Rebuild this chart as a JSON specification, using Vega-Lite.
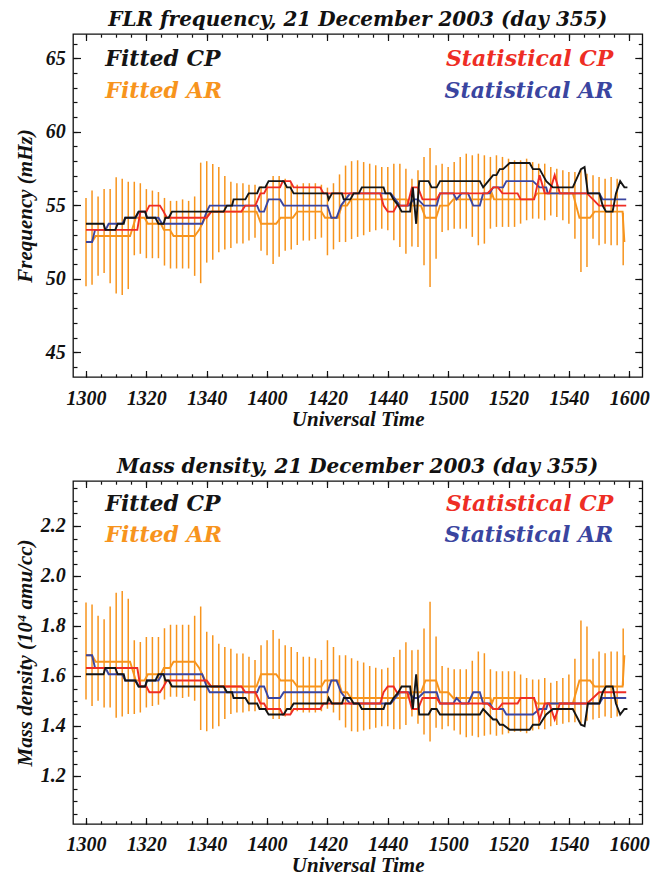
{
  "$schema": "https://vega.github.io/schema/vega-lite/v6.json",
  "padding": {"left": 14, "top": 9, "right": 4, "bottom": 2},
  "background": "white",
  "spacing": 104,
  "bounds": "flush",
  "config": {
    "view": {"stroke": "#111", "strokeWidth": 1.3},
    "axis": {"labelFont": "Liberation Serif", "labelFontSize": 20, "labelFontStyle": "italic", "labelFontWeight": "bold", "labelColor": "#111", "titleFont": "Liberation Serif", "titleFontSize": 21, "titleFontStyle": "italic", "titleFontWeight": "bold", "titleColor": "#111", "domain": false, "grid": false, "tickColor": "#111", "tickWidth": 1.2, "labelFlush": false, "labelOverlap": false},
    "title": {"font": "DejaVu Serif", "fontSize": 20, "fontStyle": "italic", "fontWeight": "bold", "color": "#111", "anchor": "middle", "baseline": "alphabetic", "offset": 3}
  },
  "datasets": {
    "lines": [
      {"s":"Fitted AR","t":0,"f":52.5,"d":1.683},{"s":"Fitted AR","t":2,"f":52.5,"d":1.683},{"s":"Fitted AR","t":3.2,"f":52.91,"d":1.657},{"s":"Fitted AR","t":14.6,"f":52.91,"d":1.657},{"s":"Fitted AR","t":16.5,"f":54.15,"d":1.582},{"s":"Fitted AR","t":19.4,"f":54.15,"d":1.582},{"s":"Fitted AR","t":20.5,"f":53.74,"d":1.607},{"s":"Fitted AR","t":24.8,"f":53.74,"d":1.607},{"s":"Fitted AR","t":25.8,"f":53.33,"d":1.632},{"s":"Fitted AR","t":27.8,"f":53.33,"d":1.632},{"s":"Fitted AR","t":29,"f":52.91,"d":1.657},{"s":"Fitted AR","t":36,"f":52.91,"d":1.657},{"s":"Fitted AR","t":37.5,"f":53.33,"d":1.632},{"s":"Fitted AR","t":39.5,"f":54.15,"d":1.582},{"s":"Fitted AR","t":41.5,"f":54.57,"d":1.558},{"s":"Fitted AR","t":56.5,"f":54.57,"d":1.558},{"s":"Fitted AR","t":58,"f":53.74,"d":1.607},{"s":"Fitted AR","t":63,"f":53.74,"d":1.607},{"s":"Fitted AR","t":64.5,"f":54.15,"d":1.582},{"s":"Fitted AR","t":68.5,"f":54.15,"d":1.582},{"s":"Fitted AR","t":70,"f":54.57,"d":1.558},{"s":"Fitted AR","t":78,"f":54.57,"d":1.558},{"s":"Fitted AR","t":79.2,"f":54.15,"d":1.582},{"s":"Fitted AR","t":83.5,"f":54.15,"d":1.582},{"s":"Fitted AR","t":84.8,"f":54.98,"d":1.535},{"s":"Fitted AR","t":86.5,"f":54.98,"d":1.535},{"s":"Fitted AR","t":87.8,"f":55.4,"d":1.512},{"s":"Fitted AR","t":106.3,"f":55.4,"d":1.512},{"s":"Fitted AR","t":107.5,"f":54.98,"d":1.535},{"s":"Fitted AR","t":111,"f":54.98,"d":1.535},{"s":"Fitted AR","t":112.5,"f":54.15,"d":1.582},{"s":"Fitted AR","t":116,"f":54.15,"d":1.582},{"s":"Fitted AR","t":117.3,"f":54.98,"d":1.535},{"s":"Fitted AR","t":120,"f":54.98,"d":1.535},{"s":"Fitted AR","t":121.7,"f":55.4,"d":1.512},{"s":"Fitted AR","t":134,"f":55.4,"d":1.512},{"s":"Fitted AR","t":134.5,"f":55.81,"d":1.49},{"s":"Fitted AR","t":135.2,"f":55.4,"d":1.512},{"s":"Fitted AR","t":148,"f":55.4,"d":1.512},{"s":"Fitted AR","t":149.5,"f":55.81,"d":1.49},{"s":"Fitted AR","t":161.3,"f":55.81,"d":1.49},{"s":"Fitted AR","t":163.5,"f":54.15,"d":1.582},{"s":"Fitted AR","t":167,"f":54.15,"d":1.582},{"s":"Fitted AR","t":168.5,"f":54.57,"d":1.558},{"s":"Fitted AR","t":177.8,"f":54.57,"d":1.558},{"s":"Fitted AR","t":178.4,"f":52.5,"d":1.683},
      {"s":"Statistical AR","t":0,"f":52.5,"d":1.683},{"s":"Statistical AR","t":2,"f":52.5,"d":1.683},{"s":"Statistical AR","t":3,"f":53.33,"d":1.632},{"s":"Statistical AR","t":6.5,"f":53.33,"d":1.632},{"s":"Statistical AR","t":7.5,"f":53.74,"d":1.607},{"s":"Statistical AR","t":12,"f":53.74,"d":1.607},{"s":"Statistical AR","t":13,"f":54.15,"d":1.582},{"s":"Statistical AR","t":16.5,"f":54.15,"d":1.582},{"s":"Statistical AR","t":17.5,"f":54.57,"d":1.558},{"s":"Statistical AR","t":19.6,"f":54.57,"d":1.558},{"s":"Statistical AR","t":20.2,"f":54.15,"d":1.582},{"s":"Statistical AR","t":24,"f":54.15,"d":1.582},{"s":"Statistical AR","t":25.2,"f":53.74,"d":1.607},{"s":"Statistical AR","t":38.5,"f":53.74,"d":1.607},{"s":"Statistical AR","t":40,"f":54.57,"d":1.558},{"s":"Statistical AR","t":41,"f":54.98,"d":1.535},{"s":"Statistical AR","t":56.7,"f":54.98,"d":1.535},{"s":"Statistical AR","t":57.5,"f":54.57,"d":1.558},{"s":"Statistical AR","t":59,"f":54.57,"d":1.558},{"s":"Statistical AR","t":60.5,"f":55.4,"d":1.512},{"s":"Statistical AR","t":64.3,"f":55.4,"d":1.512},{"s":"Statistical AR","t":65.5,"f":54.98,"d":1.535},{"s":"Statistical AR","t":80,"f":54.98,"d":1.535},{"s":"Statistical AR","t":81.3,"f":54.15,"d":1.582},{"s":"Statistical AR","t":83,"f":54.15,"d":1.582},{"s":"Statistical AR","t":84.5,"f":54.98,"d":1.535},{"s":"Statistical AR","t":86,"f":55.4,"d":1.512},{"s":"Statistical AR","t":87.5,"f":55.81,"d":1.49},{"s":"Statistical AR","t":101,"f":55.81,"d":1.49},{"s":"Statistical AR","t":102.5,"f":55.4,"d":1.512},{"s":"Statistical AR","t":104,"f":54.98,"d":1.535},{"s":"Statistical AR","t":107,"f":54.98,"d":1.535},{"s":"Statistical AR","t":108.5,"f":55.4,"d":1.512},{"s":"Statistical AR","t":110,"f":55.4,"d":1.512},{"s":"Statistical AR","t":112,"f":54.98,"d":1.535},{"s":"Statistical AR","t":116.2,"f":54.98,"d":1.535},{"s":"Statistical AR","t":117.3,"f":55.81,"d":1.49},{"s":"Statistical AR","t":121.7,"f":55.81,"d":1.49},{"s":"Statistical AR","t":122.8,"f":55.4,"d":1.512},{"s":"Statistical AR","t":124.4,"f":55.81,"d":1.49},{"s":"Statistical AR","t":126.6,"f":55.81,"d":1.49},{"s":"Statistical AR","t":128.3,"f":54.98,"d":1.535},{"s":"Statistical AR","t":130.5,"f":54.98,"d":1.535},{"s":"Statistical AR","t":131.6,"f":55.81,"d":1.49},{"s":"Statistical AR","t":133.8,"f":55.81,"d":1.49},{"s":"Statistical AR","t":134.9,"f":56.22,"d":1.468},{"s":"Statistical AR","t":138.2,"f":56.22,"d":1.468},{"s":"Statistical AR","t":139.3,"f":56.64,"d":1.446},{"s":"Statistical AR","t":148.1,"f":56.64,"d":1.446},{"s":"Statistical AR","t":150.3,"f":56.22,"d":1.468},{"s":"Statistical AR","t":152.5,"f":56.22,"d":1.468},{"s":"Statistical AR","t":153,"f":55.81,"d":1.49},{"s":"Statistical AR","t":170.1,"f":55.81,"d":1.49},{"s":"Statistical AR","t":171.2,"f":55.4,"d":1.512},{"s":"Statistical AR","t":179,"f":55.4,"d":1.512},
      {"s":"Statistical CP","t":0,"f":53.33,"d":1.632},{"s":"Statistical CP","t":17,"f":53.33,"d":1.632},{"s":"Statistical CP","t":18,"f":54.57,"d":1.558},{"s":"Statistical CP","t":20,"f":54.57,"d":1.558},{"s":"Statistical CP","t":21,"f":54.98,"d":1.535},{"s":"Statistical CP","t":24.5,"f":54.98,"d":1.535},{"s":"Statistical CP","t":25.7,"f":54.57,"d":1.558},{"s":"Statistical CP","t":26.8,"f":54.15,"d":1.582},{"s":"Statistical CP","t":40,"f":54.15,"d":1.582},{"s":"Statistical CP","t":41.5,"f":54.57,"d":1.558},{"s":"Statistical CP","t":51.5,"f":54.57,"d":1.558},{"s":"Statistical CP","t":52.8,"f":54.98,"d":1.535},{"s":"Statistical CP","t":56.1,"f":54.98,"d":1.535},{"s":"Statistical CP","t":57.8,"f":55.81,"d":1.49},{"s":"Statistical CP","t":59,"f":55.81,"d":1.49},{"s":"Statistical CP","t":60,"f":56.22,"d":1.468},{"s":"Statistical CP","t":64.3,"f":56.22,"d":1.468},{"s":"Statistical CP","t":65.2,"f":56.64,"d":1.446},{"s":"Statistical CP","t":67.7,"f":56.64,"d":1.446},{"s":"Statistical CP","t":68.8,"f":56.22,"d":1.468},{"s":"Statistical CP","t":77.6,"f":56.22,"d":1.468},{"s":"Statistical CP","t":78.7,"f":55.81,"d":1.49},{"s":"Statistical CP","t":97.5,"f":55.81,"d":1.49},{"s":"Statistical CP","t":98.6,"f":54.98,"d":1.535},{"s":"Statistical CP","t":100,"f":54.57,"d":1.558},{"s":"Statistical CP","t":101.9,"f":54.57,"d":1.558},{"s":"Statistical CP","t":103,"f":54.98,"d":1.535},{"s":"Statistical CP","t":106.5,"f":54.98,"d":1.535},{"s":"Statistical CP","t":108,"f":56.22,"d":1.468},{"s":"Statistical CP","t":110,"f":56.22,"d":1.468},{"s":"Statistical CP","t":111.5,"f":55.4,"d":1.512},{"s":"Statistical CP","t":116.2,"f":55.4,"d":1.512},{"s":"Statistical CP","t":117.3,"f":55.81,"d":1.49},{"s":"Statistical CP","t":133,"f":55.81,"d":1.49},{"s":"Statistical CP","t":135,"f":56.22,"d":1.468},{"s":"Statistical CP","t":136.5,"f":56.22,"d":1.468},{"s":"Statistical CP","t":138,"f":55.81,"d":1.49},{"s":"Statistical CP","t":143,"f":55.81,"d":1.49},{"s":"Statistical CP","t":144,"f":55.4,"d":1.512},{"s":"Statistical CP","t":148.5,"f":55.4,"d":1.512},{"s":"Statistical CP","t":150.3,"f":57.05,"d":1.426},{"s":"Statistical CP","t":152,"f":55.81,"d":1.49},{"s":"Statistical CP","t":153.5,"f":55.81,"d":1.49},{"s":"Statistical CP","t":155.3,"f":57.05,"d":1.426},{"s":"Statistical CP","t":157,"f":55.81,"d":1.49},{"s":"Statistical CP","t":166,"f":55.81,"d":1.49},{"s":"Statistical CP","t":168,"f":55.4,"d":1.512},{"s":"Statistical CP","t":170,"f":54.98,"d":1.535},{"s":"Statistical CP","t":179,"f":54.98,"d":1.535},
      {"s":"Fitted CP","t":0,"f":53.74,"d":1.607},{"s":"Fitted CP","t":5.8,"f":53.74,"d":1.607},{"s":"Fitted CP","t":6.4,"f":53.33,"d":1.632},{"s":"Fitted CP","t":9.7,"f":53.33,"d":1.632},{"s":"Fitted CP","t":10.5,"f":53.74,"d":1.607},{"s":"Fitted CP","t":12.5,"f":53.74,"d":1.607},{"s":"Fitted CP","t":13,"f":54.15,"d":1.582},{"s":"Fitted CP","t":16.3,"f":54.15,"d":1.582},{"s":"Fitted CP","t":17.4,"f":54.57,"d":1.558},{"s":"Fitted CP","t":19.6,"f":54.57,"d":1.558},{"s":"Fitted CP","t":20.2,"f":54.15,"d":1.582},{"s":"Fitted CP","t":23,"f":54.15,"d":1.582},{"s":"Fitted CP","t":24,"f":53.74,"d":1.607},{"s":"Fitted CP","t":25.7,"f":53.74,"d":1.607},{"s":"Fitted CP","t":26.3,"f":54.15,"d":1.582},{"s":"Fitted CP","t":27.4,"f":54.15,"d":1.582},{"s":"Fitted CP","t":28.5,"f":54.57,"d":1.558},{"s":"Fitted CP","t":45.6,"f":54.57,"d":1.558},{"s":"Fitted CP","t":46.7,"f":54.98,"d":1.535},{"s":"Fitted CP","t":48.4,"f":54.98,"d":1.535},{"s":"Fitted CP","t":48.9,"f":55.4,"d":1.512},{"s":"Fitted CP","t":52.8,"f":55.4,"d":1.512},{"s":"Fitted CP","t":53.9,"f":55.81,"d":1.49},{"s":"Fitted CP","t":56.7,"f":55.81,"d":1.49},{"s":"Fitted CP","t":57.5,"f":56.22,"d":1.468},{"s":"Fitted CP","t":59.4,"f":56.22,"d":1.468},{"s":"Fitted CP","t":60.5,"f":56.64,"d":1.446},{"s":"Fitted CP","t":65.5,"f":56.64,"d":1.446},{"s":"Fitted CP","t":66.6,"f":56.22,"d":1.468},{"s":"Fitted CP","t":67.7,"f":56.22,"d":1.468},{"s":"Fitted CP","t":68.8,"f":55.81,"d":1.49},{"s":"Fitted CP","t":79.9,"f":55.81,"d":1.49},{"s":"Fitted CP","t":80.4,"f":55.4,"d":1.512},{"s":"Fitted CP","t":81.5,"f":55.81,"d":1.49},{"s":"Fitted CP","t":84.8,"f":55.81,"d":1.49},{"s":"Fitted CP","t":85.4,"f":55.4,"d":1.512},{"s":"Fitted CP","t":87.6,"f":55.4,"d":1.512},{"s":"Fitted CP","t":88.7,"f":55.81,"d":1.49},{"s":"Fitted CP","t":90.4,"f":55.81,"d":1.49},{"s":"Fitted CP","t":91.4,"f":56.22,"d":1.468},{"s":"Fitted CP","t":98.6,"f":56.22,"d":1.468},{"s":"Fitted CP","t":99.2,"f":55.81,"d":1.49},{"s":"Fitted CP","t":100.8,"f":55.81,"d":1.49},{"s":"Fitted CP","t":101.9,"f":55.4,"d":1.512},{"s":"Fitted CP","t":103.5,"f":54.98,"d":1.535},{"s":"Fitted CP","t":104.6,"f":54.57,"d":1.558},{"s":"Fitted CP","t":107.4,"f":54.57,"d":1.558},{"s":"Fitted CP","t":108.3,"f":56.22,"d":1.468},{"s":"Fitted CP","t":109.4,"f":53.74,"d":1.607},{"s":"Fitted CP","t":110.4,"f":56.64,"d":1.446},{"s":"Fitted CP","t":113.5,"f":56.64,"d":1.446},{"s":"Fitted CP","t":114.5,"f":56.22,"d":1.468},{"s":"Fitted CP","t":116.2,"f":56.22,"d":1.468},{"s":"Fitted CP","t":117.3,"f":56.64,"d":1.446},{"s":"Fitted CP","t":130.5,"f":56.64,"d":1.446},{"s":"Fitted CP","t":131.6,"f":56.22,"d":1.468},{"s":"Fitted CP","t":133.3,"f":56.64,"d":1.446},{"s":"Fitted CP","t":134.9,"f":57.05,"d":1.426},{"s":"Fitted CP","t":136,"f":57.05,"d":1.426},{"s":"Fitted CP","t":137.1,"f":57.46,"d":1.405},{"s":"Fitted CP","t":138.2,"f":57.46,"d":1.405},{"s":"Fitted CP","t":140.4,"f":57.88,"d":1.385},{"s":"Fitted CP","t":147,"f":57.88,"d":1.385},{"s":"Fitted CP","t":148.1,"f":57.46,"d":1.405},{"s":"Fitted CP","t":150.3,"f":57.46,"d":1.405},{"s":"Fitted CP","t":151.4,"f":57.05,"d":1.426},{"s":"Fitted CP","t":152.5,"f":56.64,"d":1.446},{"s":"Fitted CP","t":154.7,"f":56.22,"d":1.468},{"s":"Fitted CP","t":161.3,"f":56.22,"d":1.468},{"s":"Fitted CP","t":164,"f":57.46,"d":1.405},{"s":"Fitted CP","t":165.2,"f":57.6,"d":1.399},{"s":"Fitted CP","t":166.3,"f":55.81,"d":1.49},{"s":"Fitted CP","t":170.1,"f":55.81,"d":1.49},{"s":"Fitted CP","t":171.2,"f":54.98,"d":1.535},{"s":"Fitted CP","t":172.3,"f":54.57,"d":1.558},{"s":"Fitted CP","t":174.5,"f":54.57,"d":1.558},{"s":"Fitted CP","t":175.6,"f":55.81,"d":1.49},{"s":"Fitted CP","t":177,"f":56.64,"d":1.446},{"s":"Fitted CP","t":178.4,"f":56.22,"d":1.468},{"s":"Fitted CP","t":179.4,"f":56.22,"d":1.468}
    ],
    "bars": [
      {"t":0,"flo":49.5,"fhi":55.5,"dlo":1.506,"dhi":1.894},{"t":2,"flo":49.6,"fhi":56.0,"dlo":1.48,"dhi":1.886},{"t":4,"flo":50.2,"fhi":55.6,"dlo":1.501,"dhi":1.841},{"t":6,"flo":50.4,"fhi":56.1,"dlo":1.474,"dhi":1.827},{"t":8,"flo":49.7,"fhi":56.1,"dlo":1.474,"dhi":1.878},{"t":10,"flo":49.0,"fhi":56.9,"dlo":1.433,"dhi":1.933},{"t":12,"flo":48.9,"fhi":56.8,"dlo":1.438,"dhi":1.94},{"t":14,"flo":49.3,"fhi":56.6,"dlo":1.448,"dhi":1.909},{"t":16,"flo":51.6,"fhi":56.6,"dlo":1.448,"dhi":1.743},{"t":18,"flo":51.7,"fhi":56.5,"dlo":1.454,"dhi":1.736},{"t":20,"flo":51.4,"fhi":56.1,"dlo":1.474,"dhi":1.756},{"t":22,"flo":51.4,"fhi":56.0,"dlo":1.48,"dhi":1.756},{"t":24,"flo":51.4,"fhi":55.9,"dlo":1.485,"dhi":1.756},{"t":26,"flo":50.9,"fhi":55.5,"dlo":1.506,"dhi":1.791},{"t":28,"flo":50.7,"fhi":55.3,"dlo":1.517,"dhi":1.805},{"t":30,"flo":50.7,"fhi":55.3,"dlo":1.517,"dhi":1.805},{"t":32,"flo":50.7,"fhi":55.4,"dlo":1.512,"dhi":1.805},{"t":34,"flo":50.7,"fhi":55.3,"dlo":1.517,"dhi":1.805},{"t":36,"flo":50.2,"fhi":55.6,"dlo":1.501,"dhi":1.841},{"t":38,"flo":49.7,"fhi":57.9,"dlo":1.384,"dhi":1.878},{"t":40,"flo":51.1,"fhi":58.0,"dlo":1.379,"dhi":1.777},{"t":42,"flo":51.3,"fhi":57.8,"dlo":1.389,"dhi":1.763},{"t":44,"flo":51.8,"fhi":57.6,"dlo":1.399,"dhi":1.729},{"t":46,"flo":52.0,"fhi":57.0,"dlo":1.428,"dhi":1.716},{"t":48,"flo":52.1,"fhi":56.6,"dlo":1.448,"dhi":1.709},{"t":50,"flo":52.4,"fhi":56.5,"dlo":1.454,"dhi":1.69},{"t":52,"flo":52.4,"fhi":56.5,"dlo":1.454,"dhi":1.69},{"t":54,"flo":52.6,"fhi":56.4,"dlo":1.459,"dhi":1.677},{"t":56,"flo":52.8,"fhi":56.4,"dlo":1.459,"dhi":1.664},{"t":58,"flo":51.9,"fhi":56.3,"dlo":1.464,"dhi":1.723},{"t":60,"flo":51.6,"fhi":56.4,"dlo":1.459,"dhi":1.743},{"t":62,"flo":51.0,"fhi":57.0,"dlo":1.428,"dhi":1.784},{"t":64,"flo":51.5,"fhi":57.0,"dlo":1.428,"dhi":1.749},{"t":66,"flo":51.9,"fhi":56.8,"dlo":1.438,"dhi":1.723},{"t":68,"flo":52.0,"fhi":56.5,"dlo":1.454,"dhi":1.716},{"t":70,"flo":52.3,"fhi":56.4,"dlo":1.459,"dhi":1.696},{"t":72,"flo":52.6,"fhi":56.5,"dlo":1.454,"dhi":1.677},{"t":74,"flo":52.6,"fhi":56.5,"dlo":1.454,"dhi":1.677},{"t":76,"flo":52.7,"fhi":56.5,"dlo":1.454,"dhi":1.671},{"t":78,"flo":52.8,"fhi":56.4,"dlo":1.459,"dhi":1.664},{"t":80,"flo":51.6,"fhi":56.2,"dlo":1.469,"dhi":1.743},{"t":82,"flo":52.0,"fhi":56.5,"dlo":1.454,"dhi":1.716},{"t":84,"flo":52.5,"fhi":57.1,"dlo":1.423,"dhi":1.683},{"t":86,"flo":52.5,"fhi":57.7,"dlo":1.394,"dhi":1.683},{"t":88,"flo":52.7,"fhi":58.0,"dlo":1.379,"dhi":1.671},{"t":90,"flo":52.85,"fhi":58.06,"dlo":1.377,"dhi":1.661},{"t":92,"flo":52.96,"fhi":57.94,"dlo":1.382,"dhi":1.654},{"t":94,"flo":53.19,"fhi":57.83,"dlo":1.387,"dhi":1.64},{"t":96,"flo":53.3,"fhi":57.72,"dlo":1.393,"dhi":1.633},{"t":98,"flo":53.41,"fhi":57.6,"dlo":1.399,"dhi":1.627},{"t":100,"flo":53.3,"fhi":57.6,"dlo":1.399,"dhi":1.633},{"t":102,"flo":52.62,"fhi":57.83,"dlo":1.387,"dhi":1.676},{"t":104,"flo":52.17,"fhi":57.83,"dlo":1.387,"dhi":1.705},{"t":106,"flo":51.71,"fhi":57.49,"dlo":1.404,"dhi":1.735},{"t":108,"flo":52.2,"fhi":56.8,"dlo":1.438,"dhi":1.703},{"t":110,"flo":52.17,"fhi":57.38,"dlo":1.409,"dhi":1.705},{"t":112,"flo":50.92,"fhi":58.29,"dlo":1.366,"dhi":1.79},{"t":114,"flo":49.45,"fhi":58.9,"dlo":1.338,"dhi":1.897},{"t":116,"flo":51.37,"fhi":57.72,"dlo":1.393,"dhi":1.758},{"t":118,"flo":53.19,"fhi":57.83,"dlo":1.387,"dhi":1.64},{"t":120,"flo":53.3,"fhi":57.6,"dlo":1.399,"dhi":1.633},{"t":122,"flo":53.41,"fhi":57.94,"dlo":1.382,"dhi":1.627},{"t":124,"flo":53.41,"fhi":58.29,"dlo":1.366,"dhi":1.627},{"t":126,"flo":53.41,"fhi":58.51,"dlo":1.355,"dhi":1.627},{"t":128,"flo":52.85,"fhi":58.4,"dlo":1.361,"dhi":1.661},{"t":130,"flo":52.28,"fhi":58.51,"dlo":1.355,"dhi":1.698},{"t":132,"flo":52.39,"fhi":58.4,"dlo":1.361,"dhi":1.691},{"t":134,"flo":53.41,"fhi":58.29,"dlo":1.366,"dhi":1.627},{"t":136,"flo":53.53,"fhi":58.4,"dlo":1.361,"dhi":1.619},{"t":138,"flo":53.53,"fhi":58.29,"dlo":1.366,"dhi":1.619},{"t":140,"flo":53.53,"fhi":58.17,"dlo":1.371,"dhi":1.619},{"t":142,"flo":53.53,"fhi":58.06,"dlo":1.377,"dhi":1.619},{"t":144,"flo":53.75,"fhi":58.06,"dlo":1.377,"dhi":1.606},{"t":146,"flo":53.98,"fhi":58.17,"dlo":1.371,"dhi":1.592},{"t":148,"flo":54.09,"fhi":57.94,"dlo":1.382,"dhi":1.586},{"t":150,"flo":54.09,"fhi":57.83,"dlo":1.387,"dhi":1.586},{"t":152,"flo":53.98,"fhi":57.83,"dlo":1.387,"dhi":1.592},{"t":154,"flo":54.31,"fhi":57.6,"dlo":1.399,"dhi":1.573},{"t":156,"flo":54.2,"fhi":57.49,"dlo":1.404,"dhi":1.58},{"t":158,"flo":53.98,"fhi":57.38,"dlo":1.409,"dhi":1.592},{"t":160,"flo":53.75,"fhi":57.27,"dlo":1.415,"dhi":1.606},{"t":162,"flo":52.73,"fhi":57.27,"dlo":1.415,"dhi":1.669},{"t":164,"flo":50.46,"fhi":57.38,"dlo":1.409,"dhi":1.822},{"t":166,"flo":50.8,"fhi":57.15,"dlo":1.421,"dhi":1.798},{"t":168,"flo":52.73,"fhi":57.04,"dlo":1.426,"dhi":1.669},{"t":170,"flo":52.28,"fhi":56.93,"dlo":1.432,"dhi":1.698},{"t":172,"flo":52.39,"fhi":56.81,"dlo":1.438,"dhi":1.691},{"t":174,"flo":52.28,"fhi":56.93,"dlo":1.432,"dhi":1.698},{"t":176,"flo":52.28,"fhi":56.81,"dlo":1.438,"dhi":1.698},{"t":178,"flo":50.92,"fhi":54.5,"dlo":1.562,"dhi":1.79}
    ]
  },
  "vconcat": [
    {
      "width": 569.3,
      "height": 343,
      "title": {"text": "FLR frequency, 21 December 2003 (day 355)"},
      "resolve": {"axis": {"x": "independent", "y": "independent"}},
      "layer": [
        {
          "data": {"name": "bars"},
          "mark": {"type": "rule", "color": "#F7941D", "strokeWidth": 1.5},
          "encoding": {
            "x": {"field": "t", "type": "quantitative", "scale": {"domain": [-4.31, 184.33], "nice": false, "zero": false},
              "axis": {"orient": "bottom", "values": [0,20,40,60,80,100,120,140,160,180], "labelExpr": "1300 + floor(datum.value / 60) * 100 + datum.value % 60", "tickSize": -6.5, "labelBaseline": "alphabetic", "labelPadding": 33.5, "title": "Universal Time", "titlePadding": 0, "titleBaseline": "top"}},
            "y": {"field": "flo", "type": "quantitative", "scale": {"domain": [43.32, 66.65], "nice": false, "zero": false},
              "axis": {"orient": "left", "values": [45,50,55,60,65], "tickSize": -7.5, "labelPadding": 15.2, "title": "Frequency (mHz)", "titlePadding": 9.5}},
            "y2": {"field": "fhi"}
          }
        },
        {
          "data": {"name": "lines"},
          "mark": {"type": "line", "strokeWidth": 1.9},
          "encoding": {
            "x": {"field": "t", "type": "quantitative", "scale": {"domain": [-4.31, 184.33], "nice": false, "zero": false},
              "axis": {"orient": "bottom", "values": [0,5,10,15,20,25,30,35,40,45,50,55,60,65,70,75,80,85,90,95,100,105,110,115,120,125,130,135,140,145,150,155,160,165,170,175,180], "labels": false, "tickSize": -3.2, "title": null}},
            "y": {"field": "f", "type": "quantitative", "scale": {"domain": [43.32, 66.65], "nice": false, "zero": false},
              "axis": {"orient": "left", "values": [44,45,46,47,48,49,50,51,52,53,54,55,56,57,58,59,60,61,62,63,64,65,66], "labels": false, "tickSize": -4, "title": null}},
            "color": {"field": "s", "type": "nominal", "scale": {"domain": ["Fitted AR", "Statistical AR", "Statistical CP", "Fitted CP"], "range": ["#F7941D", "#3A45A0", "#EE2D24", "#151515"]}, "legend": null}
          }
        },
        {
          "data": {"name": "bars"},
          "mark": {"type": "point", "opacity": 0},
          "encoding": {
            "x": {"field": "t", "type": "quantitative", "axis": {"orient": "top", "values": [0,20,40,60,80,100,120,140,160,180], "labels": false, "tickSize": -6.5, "title": null}},
            "y": {"field": "flo", "type": "quantitative", "axis": {"orient": "right", "values": [45,50,55,60,65], "labels": false, "tickSize": -7.5, "title": null}}
          }
        },
        {
          "data": {"name": "bars"},
          "mark": {"type": "point", "opacity": 0},
          "encoding": {
            "x": {"field": "t", "type": "quantitative", "axis": {"orient": "top", "values": [0,5,10,15,20,25,30,35,40,45,50,55,60,65,70,75,80,85,90,95,100,105,110,115,120,125,130,135,140,145,150,155,160,165,170,175,180], "labels": false, "tickSize": -3.2, "title": null}},
            "y": {"field": "flo", "type": "quantitative", "axis": {"orient": "right", "values": [44,45,46,47,48,49,50,51,52,53,54,55,56,57,58,59,60,61,62,63,64,65,66], "labels": false, "tickSize": -4, "title": null}}
          }
        },
        {
          "data": {"values": [{"label": "Fitted CP"}]},
          "mark": {"type": "text", "align": "left", "baseline": "alphabetic", "font": "DejaVu Serif", "fontSize": 22, "fontStyle": "italic", "fontWeight": "bold", "color": "#151515"},
          "encoding": {"x": {"datum": 6.4, "type": "quantitative", "axis": null}, "y": {"datum": 64.44, "type": "quantitative", "axis": null}, "text": {"field": "label"}}
        },
        {
          "data": {"values": [{"label": "Fitted AR"}]},
          "mark": {"type": "text", "align": "left", "baseline": "alphabetic", "font": "DejaVu Serif", "fontSize": 22, "fontStyle": "italic", "fontWeight": "bold", "color": "#F7941D"},
          "encoding": {"x": {"datum": 6.4, "type": "quantitative", "axis": null}, "y": {"datum": 62.3, "type": "quantitative", "axis": null}, "text": {"field": "label"}}
        },
        {
          "data": {"values": [{"label": "Statistical CP"}]},
          "mark": {"type": "text", "align": "right", "baseline": "alphabetic", "font": "DejaVu Serif", "fontSize": 22, "fontStyle": "italic", "fontWeight": "bold", "color": "#EE2D24"},
          "encoding": {"x": {"datum": 174.7, "type": "quantitative", "axis": null}, "y": {"datum": 64.44, "type": "quantitative", "axis": null}, "text": {"field": "label"}}
        },
        {
          "data": {"values": [{"label": "Statistical AR"}]},
          "mark": {"type": "text", "align": "right", "baseline": "alphabetic", "font": "DejaVu Serif", "fontSize": 22, "fontStyle": "italic", "fontWeight": "bold", "color": "#3A45A0"},
          "encoding": {"x": {"datum": 174.7, "type": "quantitative", "axis": null}, "y": {"datum": 62.3, "type": "quantitative", "axis": null}, "text": {"field": "label"}}
        }
      ]
    },
    {
      "width": 569.3,
      "height": 343,
      "title": {"text": "Mass density, 21 December 2003 (day 355)"},
      "resolve": {"axis": {"x": "independent", "y": "independent"}},
      "layer": [
        {
          "data": {"name": "bars"},
          "mark": {"type": "rule", "color": "#F7941D", "strokeWidth": 1.5},
          "encoding": {
            "x": {"field": "t", "type": "quantitative", "scale": {"domain": [-4.31, 184.33], "nice": false, "zero": false},
              "axis": {"orient": "bottom", "values": [0,20,40,60,80,100,120,140,160,180], "labelExpr": "1300 + floor(datum.value / 60) * 100 + datum.value % 60", "tickSize": -6.5, "labelBaseline": "alphabetic", "labelPadding": 33.5, "title": "Universal Time", "titlePadding": 0, "titleBaseline": "top"}},
            "y": {"field": "dlo", "type": "quantitative", "scale": {"domain": [1.008, 2.38], "nice": false, "zero": false},
              "axis": {"orient": "left", "values": [1.2,1.4,1.6,1.8,2.0,2.2], "format": ".1f", "tickSize": -7.5, "labelPadding": 15.2, "title": "Mass density (10⁴ amu/cc)", "titlePadding": 4.5}},
            "y2": {"field": "dhi"}
          }
        },
        {
          "data": {"name": "lines"},
          "mark": {"type": "line", "strokeWidth": 1.9},
          "encoding": {
            "x": {"field": "t", "type": "quantitative", "scale": {"domain": [-4.31, 184.33], "nice": false, "zero": false},
              "axis": {"orient": "bottom", "values": [0,5,10,15,20,25,30,35,40,45,50,55,60,65,70,75,80,85,90,95,100,105,110,115,120,125,130,135,140,145,150,155,160,165,170,175,180], "labels": false, "tickSize": -3.2, "title": null}},
            "y": {"field": "d", "type": "quantitative", "scale": {"domain": [1.008, 2.38], "nice": false, "zero": false},
              "axis": {"orient": "left", "values": [1.05,1.1,1.15,1.2,1.25,1.3,1.35,1.4,1.45,1.5,1.55,1.6,1.65,1.7,1.75,1.8,1.85,1.9,1.95,2.0,2.05,2.1,2.15,2.2,2.25,2.3,2.35], "labels": false, "tickSize": -4, "title": null}},
            "color": {"field": "s", "type": "nominal", "scale": {"domain": ["Fitted AR", "Statistical AR", "Statistical CP", "Fitted CP"], "range": ["#F7941D", "#3A45A0", "#EE2D24", "#151515"]}, "legend": null}
          }
        },
        {
          "data": {"name": "bars"},
          "mark": {"type": "point", "opacity": 0},
          "encoding": {
            "x": {"field": "t", "type": "quantitative", "axis": {"orient": "top", "values": [0,20,40,60,80,100,120,140,160,180], "labels": false, "tickSize": -6.5, "title": null}},
            "y": {"field": "dlo", "type": "quantitative", "axis": {"orient": "right", "values": [1.2,1.4,1.6,1.8,2.0,2.2], "labels": false, "tickSize": -7.5, "title": null}}
          }
        },
        {
          "data": {"name": "bars"},
          "mark": {"type": "point", "opacity": 0},
          "encoding": {
            "x": {"field": "t", "type": "quantitative", "axis": {"orient": "top", "values": [0,5,10,15,20,25,30,35,40,45,50,55,60,65,70,75,80,85,90,95,100,105,110,115,120,125,130,135,140,145,150,155,160,165,170,175,180], "labels": false, "tickSize": -3.2, "title": null}},
            "y": {"field": "dlo", "type": "quantitative", "axis": {"orient": "right", "values": [1.05,1.1,1.15,1.2,1.25,1.3,1.35,1.4,1.45,1.5,1.55,1.6,1.65,1.7,1.75,1.8,1.85,1.9,1.95,2.0,2.05,2.1,2.15,2.2,2.25,2.3,2.35], "labels": false, "tickSize": -4, "title": null}}
          }
        },
        {
          "data": {"values": [{"label": "Fitted CP"}]},
          "mark": {"type": "text", "align": "left", "baseline": "alphabetic", "font": "DejaVu Serif", "fontSize": 22, "fontStyle": "italic", "fontWeight": "bold", "color": "#151515"},
          "encoding": {"x": {"datum": 6.4, "type": "quantitative", "axis": null}, "y": {"datum": 2.26, "type": "quantitative", "axis": null}, "text": {"field": "label"}}
        },
        {
          "data": {"values": [{"label": "Fitted AR"}]},
          "mark": {"type": "text", "align": "left", "baseline": "alphabetic", "font": "DejaVu Serif", "fontSize": 22, "fontStyle": "italic", "fontWeight": "bold", "color": "#F7941D"},
          "encoding": {"x": {"datum": 6.4, "type": "quantitative", "axis": null}, "y": {"datum": 2.134, "type": "quantitative", "axis": null}, "text": {"field": "label"}}
        },
        {
          "data": {"values": [{"label": "Statistical CP"}]},
          "mark": {"type": "text", "align": "right", "baseline": "alphabetic", "font": "DejaVu Serif", "fontSize": 22, "fontStyle": "italic", "fontWeight": "bold", "color": "#EE2D24"},
          "encoding": {"x": {"datum": 174.7, "type": "quantitative", "axis": null}, "y": {"datum": 2.26, "type": "quantitative", "axis": null}, "text": {"field": "label"}}
        },
        {
          "data": {"values": [{"label": "Statistical AR"}]},
          "mark": {"type": "text", "align": "right", "baseline": "alphabetic", "font": "DejaVu Serif", "fontSize": 22, "fontStyle": "italic", "fontWeight": "bold", "color": "#3A45A0"},
          "encoding": {"x": {"datum": 174.7, "type": "quantitative", "axis": null}, "y": {"datum": 2.134, "type": "quantitative", "axis": null}, "text": {"field": "label"}}
        }
      ]
    }
  ]
}
